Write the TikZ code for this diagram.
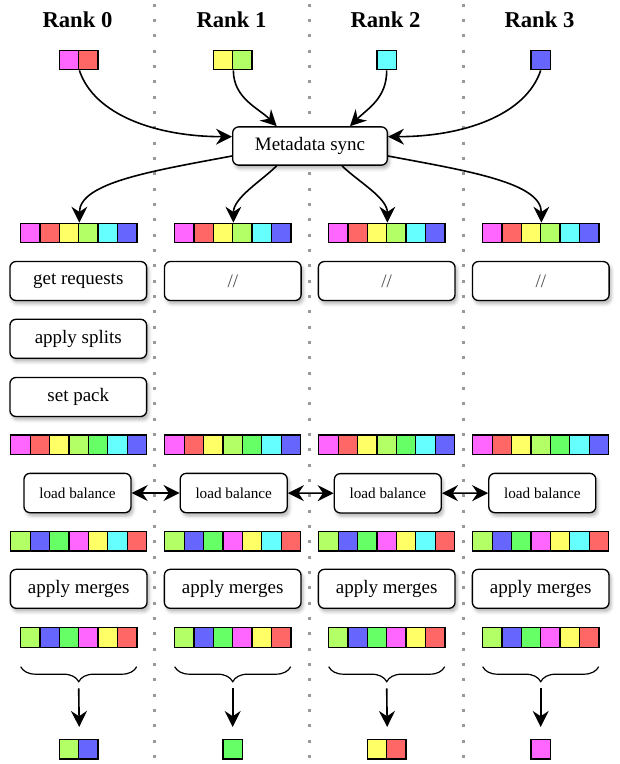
\documentclass[tikz,border=0pt]{standalone}
\usepackage{fontspec}
\setmainfont{Liberation Serif}
\usetikzlibrary{arrows.meta,decorations.pathreplacing,shadows.blur}

\definecolor{cMag}{HTML}{FF66FF}
\definecolor{cRed}{HTML}{FF6666}
\definecolor{cYel}{HTML}{FFFF66}
\definecolor{cLim}{HTML}{B3FF66}
\definecolor{cGrn}{HTML}{66FF66}
\definecolor{cCya}{HTML}{66FFFF}
\definecolor{cBlu}{HTML}{6666FF}

\begin{document}
\begin{tikzpicture}[x=0.75pt,y=0.75pt,yscale=-1,xscale=1,
  cell/.style={draw, line width=1pt, minimum size=14.55pt, inner sep=0pt},
  stepbox/.style={draw, fill=white, line width=1pt, rounded corners=4.5pt, inner sep=0pt,
    minimum width=102.5pt, minimum height=29.25pt, font=\fontsize{14.25}{17}\selectfont,
    blur shadow={shadow xshift=1.5pt, shadow yshift=-2.5pt, shadow blur radius=2.5pt, shadow opacity=30}},
  lbbox/.style={stepbox, minimum width=80.25pt, minimum height=29.5pt, font=\fontsize{11.4}{13}\selectfont},
  flow/.style={line width=1.2pt, -{Stealth[length=12pt, width=12pt, inset=4pt]}},
  bothway/.style={line width=1.2pt, {Stealth[length=12pt, width=12pt, inset=4pt]}-{Stealth[length=12pt, width=12pt, inset=4pt]}},
  curly/.style={decorate, decoration={brace, mirror, amplitude=11.25pt}, line width=0.9pt},
  rankdiv/.style={draw=black!40, line width=2.25pt, dash pattern=on 2.25pt off 9.25pt},
  ranklabel/.style={font=\bfseries\fontsize{17}{20}\selectfont}]
\useasboundingbox (0,0) rectangle (619,764);

% Rank separators
\draw[rankdiv] (154.7,3.5) -- (154.7,764);
\draw[rankdiv] (309,3.5) -- (309,764);
\draw[rankdiv] (463.3,3.5) -- (463.3,764);

% Text Node
\node[ranklabel] (rank0) at (77.5,20) {Rank 0};
\node[ranklabel] (rank1) at (231.5,20) {Rank 1};
\node[ranklabel] (rank2) at (385.5,20) {Rank 2};
\node[ranklabel] (rank3) at (539.5,20) {Rank 3};

% Input requests
\node[cell, fill=cMag] (in0-1) at (69,60) {};
\node[cell, fill=cRed] (in0-2) at (88.4,60) {};
\node[cell, fill=cYel] (in1-1) at (223,60) {};
\node[cell, fill=cLim] (in1-2) at (242.4,60) {};
\node[cell, fill=cCya] (in2) at (386.7,60) {};
\node[cell, fill=cBlu] (in3) at (540.7,60) {};

% Text Node
\node[stepbox, minimum width=116pt, minimum height=28.7pt] (sync) at (310,146) {Metadata sync};

% Connection
\draw[flow] (in0-1.south east) .. controls +(15,45) and +(-75,0) .. ([yshift=-7pt]sync.west);
\draw[flow] (in1-1.south east) .. controls +(0,28) and +(-18,-18) .. ([xshift=-25pt]sync.north);
\draw[flow] (in2.south) .. controls +(0,28) and +(18,-18) .. ([xshift=30pt]sync.north);
\draw[flow] (in3.south) .. controls +(-15,45) and +(75,0) .. ([yshift=-7pt]sync.east);

% Gathered requests, one row per rank
\foreach \r/\cx in {0/78.7,1/232.7,2/386.7,3/540.7}{
  \foreach \c [count=\i] in {cMag,cRed,cYel,cLim,cCya,cBlu}
    \node[cell, fill=\c] (all\r-\i) at ({\cx+(\i-3.5)*19.4},233) {};
  \foreach \c [count=\i] in {cMag,cRed,cYel,cLim,cGrn,cCya,cBlu}
    \node[cell, fill=\c] (pack\r-\i) at ({\cx+(\i-4)*19.4},444.7) {};
  \foreach \c [count=\i] in {cLim,cBlu,cGrn,cMag,cYel,cCya,cRed}
    \node[cell, fill=\c] (mix\r-\i) at ({\cx+(\i-4)*19.4},541.3) {};
  \foreach \c [count=\i] in {cLim,cBlu,cGrn,cMag,cYel,cRed}
    \node[cell, fill=\c] (res\r-\i) at ({\cx+(\i-3.5)*19.4},637.5) {};
  % Text Node
  \node[stepbox] (mrg\r) at (\cx,588.8) {apply merges};
  % Brace
  \draw[curly] ({\cx-58},666.7) -- ({\cx+58},666.7);
  \coordinate (tip\r) at (\cx,688.3);
}

% Connection
\draw[flow] ([yshift=7.5pt]sync.west) .. controls +(-80,15) and +(0,-40) .. (all0-3.north east);
\draw[flow] ([xshift=-25pt]sync.south) .. controls +(-15,15) and +(0,-25) .. (all1-3.north east);
\draw[flow] ([xshift=24pt]sync.south) .. controls +(15,15) and +(0,-25) .. (all2-3.north east);
\draw[flow] ([yshift=7.5pt]sync.east) .. controls +(80,15) and +(0,-40) .. (all3-3.north east);

% Text Node
\node[stepbox] (req0) at (78.3,281) {get requests};
\node[stepbox, text=black!70] (req1) at (232.8,281) {//};
\node[stepbox, text=black!70] (req2) at (386.7,281) {//};
\node[stepbox, text=black!70] (req3) at (540.8,281) {//};
\node[stepbox] (split0) at (78.3,338.8) {apply splits};
\node[stepbox] (set0) at (78.3,397) {set pack};

% Text Node
\node[lbbox] (lb0) at (77.5,493) {load balance};
\node[lbbox] (lb1) at (233.7,493) {load balance};
\node[lbbox] (lb2) at (387.8,493.3) {load balance};
\node[lbbox] (lb3) at (542.3,493) {load balance};

% Connection
\draw[bothway] (lb0) -- (lb1);
\draw[bothway] (lb1) -- (lb2);
\draw[bothway] (lb2) -- (lb3);

% Output requests
\node[cell, fill=cLim] (out0-1) at (69,749.3) {};
\node[cell, fill=cBlu] (out0-2) at (88.4,749.3) {};
\node[cell, fill=cGrn] (out1) at (232.7,749.3) {};
\node[cell, fill=cYel] (out2-1) at (377,749.3) {};
\node[cell, fill=cRed] (out2-2) at (396.4,749.3) {};
\node[cell, fill=cMag] (out3) at (540.7,749.3) {};

% Connection
\draw[flow, shorten >=9pt] (tip0) -- (out0-1.north east);
\draw[flow, shorten >=9pt] (tip1) -- (out1.north);
\draw[flow, shorten >=9pt] (tip2) -- (out2-1.north east);
\draw[flow, shorten >=9pt] (tip3) -- (out3.north);

\end{tikzpicture}
\end{document}
